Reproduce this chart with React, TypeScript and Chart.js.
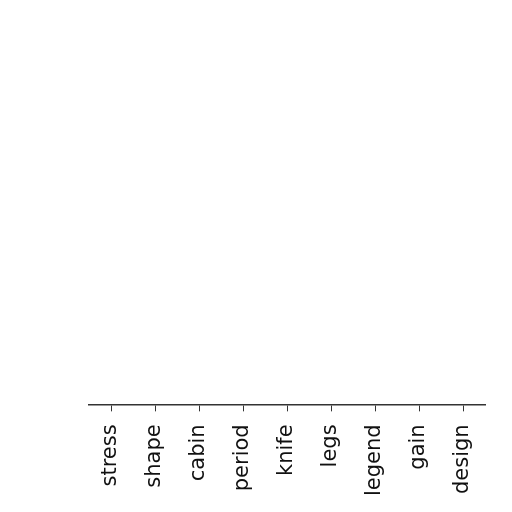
import React, { useEffect, useRef } from 'react';
import { Chart, registerables } from 'chart.js';

Chart.register(...registerables);

const categories = ['stress', 'shape', 'cabin', 'period', 'knife', 'legs', 'legend', 'gain', 'design'];
const values = [0, 0, 0, 0, 0, 0, 0, 0, 0];

const App: React.FC = () => {
    const chartRef = useRef<HTMLCanvasElement>(null);
    const chartInstanceRef = useRef<Chart | null>(null);

    useEffect(() => {
        if (!chartRef.current) return;
        const ctx = chartRef.current.getContext('2d');
        if (!ctx) return;
        if (chartInstanceRef.current) chartInstanceRef.current.destroy();

        chartInstanceRef.current = new Chart(ctx, {
            type: 'bar',
            data: {
                labels: categories,
                datasets: [
                    {
                        label: 'value',
                        data: values,
                        backgroundColor: '#1f77b4',
                    },
                ],
            },
            options: {
                responsive: true,
                maintainAspectRatio: false,
                animation: false,
                layout: {
                    padding: { left: 89, right: 27, top: 20, bottom: 3 },
                },
                plugins: {
                    legend: { display: false },
                    tooltip: { enabled: false },
                },
                scales: {
                    x: {
                        grid: {
                            offset: false,
                            drawOnChartArea: false,
                            drawTicks: true,
                            tickLength: 7,
                            color: '#333333',
                        },
                        border: { display: true, color: '#333333', width: 1.5 },
                        ticks: {
                            minRotation: 90,
                            maxRotation: 90,
                            autoSkip: false,
                            padding: 13,
                            color: '#111111',
                            font: { family: 'DejaVu Sans', size: 21 },
                        },
                    },
                    y: {
                        display: false,
                        min: 0,
                        max: 1,
                    },
                },
            },
        });

        return () => {
            if (chartInstanceRef.current) {
                chartInstanceRef.current.destroy();
                chartInstanceRef.current = null;
            }
        };
    }, []);

    return (
        <div style={{ position: 'fixed', left: 0, top: 0, width: 512, height: 512, background: '#ffffff' }}>
            <canvas ref={chartRef}></canvas>
        </div>
    );
};

export default App;
